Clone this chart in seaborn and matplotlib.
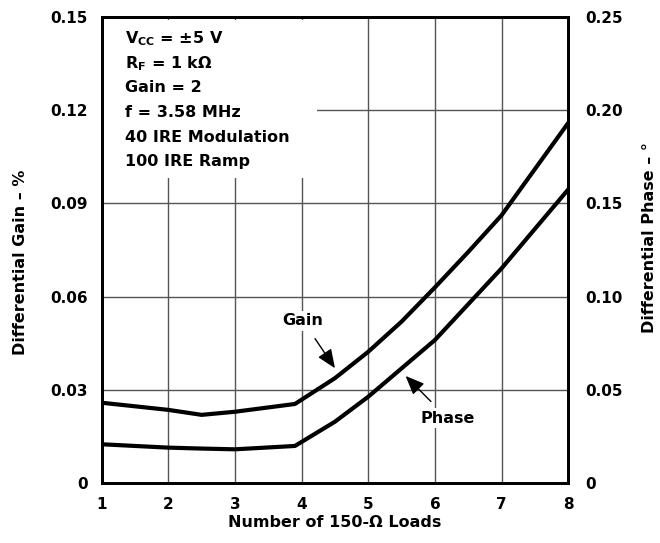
import numpy as np
import pandas as pd
import matplotlib
matplotlib.use("Agg")
import matplotlib.pyplot as plt
import seaborn as sns
from matplotlib.patches import Rectangle

sns.set_theme(style="white")
plt.rcParams['font.family'] = ['DejaVu Sans']
plt.rcParams['font.weight'] = 'bold'
plt.rcParams['text.color'] = 'black'
plt.rcParams['axes.labelcolor'] = 'black'
plt.rcParams['mathtext.fontset'] = 'custom'
plt.rcParams['mathtext.bf'] = 'DejaVu Sans:bold'
plt.rcParams['mathtext.rm'] = 'DejaVu Sans:bold'

# Data
loads = [1, 2, 2.5, 3, 3.9, 4.5, 5, 5.5, 6, 6.5, 7, 8]
gain = [0.0259, 0.0236, 0.0220, 0.0230, 0.0255, 0.0338, 0.0423, 0.0520, 0.0630, 0.0744, 0.0862, 0.1159]
phase = [0.0209, 0.0191, 0.0186, 0.0182, 0.0200, 0.0330, 0.0464, 0.0616, 0.0768, 0.0960, 0.1152, 0.1575]

left_ticks = [0, 0.03, 0.06, 0.09, 0.12, 0.15]
left_labels = ['0', '0.03', '0.06', '0.09', '0.12', '0.15']
right_ticks = [0, 0.05, 0.10, 0.15, 0.20, 0.25]
right_labels = ['0', '0.05', '0.10', '0.15', '0.20', '0.25']
x_ticks = [1, 2, 3, 4, 5, 6, 7, 8]

conditions = [r'V$_{\mathbf{CC}}$ = ±5 V', r'R$_{\mathbf{F}}$ = 1 kΩ', 'Gain = 2',
              'f = 3.58 MHz', '40 IRE Modulation', '100 IRE Ramp']

df = pd.DataFrame({'loads': loads, 'gain': gain, 'phase': phase})

fig = plt.figure(figsize=(6.6, 5.43), dpi=100)
ax = fig.add_axes([0.154, 0.110, 0.707, 0.859])
ax2 = ax.twinx()

ax.set_axisbelow(True)
ax.grid(True, color='#555555', linewidth=1.0, zorder=0)

# white box behind condition text
ax.add_patch(Rectangle((0.0, 0.654), 0.461, 0.339, transform=ax.transAxes,
                       facecolor='white', edgecolor='none', zorder=1))
ys = [0.954, 0.900, 0.848, 0.795, 0.742, 0.689]
for t, yy in zip(conditions, ys):
    ax.text(0.05, yy, t, transform=ax.transAxes, fontsize=11.5, fontweight='bold',
            color='black', va='center', ha='left', zorder=3)

sns.lineplot(data=df, x='loads', y='gain', ax=ax, color='black', linewidth=3.0, zorder=3)
sns.lineplot(data=df, x='loads', y='phase', ax=ax2, color='black', linewidth=3.0, zorder=3)

ax.set_xlim(1, 8)
ax.set_ylim(0, 0.15)
ax2.set_ylim(0, 0.25)
ax.set_xticks(x_ticks)
ax.set_xticklabels([str(t) for t in x_ticks])
ax.set_yticks(left_ticks)
ax.set_yticklabels(left_labels)
ax2.set_yticks(right_ticks)
ax2.set_yticklabels(right_labels)

for a in (ax, ax2):
    for s in a.spines.values():
        s.set_linewidth(2.0)
        s.set_color('black')
    a.tick_params(length=0, labelsize=11, colors='black')
ax.tick_params(axis='y', pad=10)
ax.tick_params(axis='x', pad=10)
ax2.tick_params(axis='y', pad=12)
for lab in ax.get_xticklabels() + ax.get_yticklabels() + ax2.get_yticklabels():
    lab.set_fontweight('bold')

ax.set_xlabel('Number of 150-Ω Loads', fontsize=11.5, fontweight='bold', color='black', labelpad=2)
ax.set_ylabel('Differential Gain – %', fontsize=11.5, fontweight='bold', color='black')
ax2.set_ylabel('Differential Phase – °', fontsize=11.5, fontweight='bold', color='black')
ax.yaxis.set_label_coords(-0.158, 0.474)
ax2.yaxis.set_label_coords(1.157, 0.526)

# annotations
arrow = dict(arrowstyle='-|>,head_length=1.0,head_width=0.42', color='black',
             lw=1.0, shrinkA=7, shrinkB=0)
ax.annotate('Gain', xy=(4.5, 0.037), xytext=(4.02, 0.0523), fontsize=11.5, fontweight='bold',
            color='black', ha='center', va='center', zorder=4,
            bbox=dict(boxstyle='square,pad=0.15', fc='white', ec='none'),
            arrowprops=arrow)
ax.annotate('Phase', xy=(5.56, 0.0345), xytext=(6.19, 0.0209), fontsize=11.5, fontweight='bold',
            color='black', ha='center', va='center', zorder=4,
            bbox=dict(boxstyle='square,pad=0.15', fc='white', ec='none'),
            arrowprops=arrow)

fig.savefig('out.png', dpi=100)
